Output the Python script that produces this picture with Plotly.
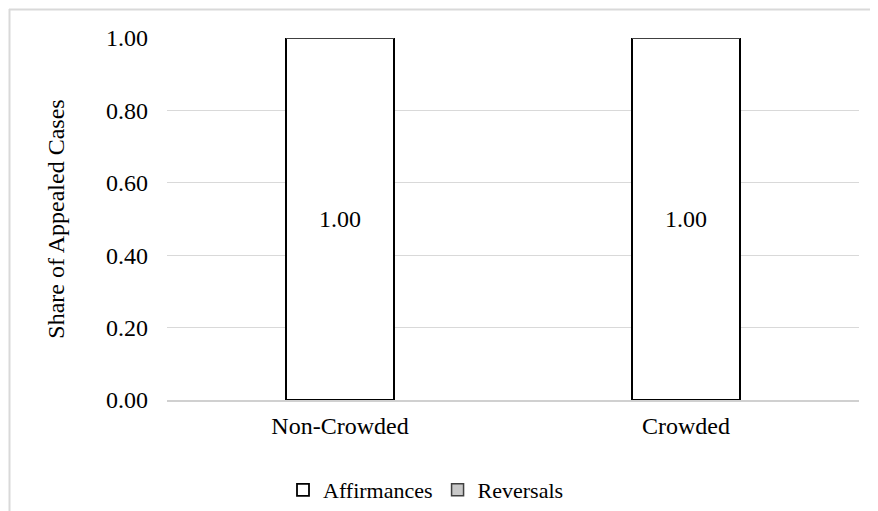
import plotly.graph_objects as go

categories = ["Non-Crowded", "Crowded"]
affirmances = [1.00, 1.00]
reversals = [0.00, 0.00]
y_ticks = [0.0, 0.2, 0.4, 0.6, 0.8, 1.0]
y_tick_labels = ["0.00", "0.20", "0.40", "0.60", "0.80", "1.00"]

# page body has an 8px margin, so the figure is sized to fill the rest of the window
OFF = 8
W, H = 878 - OFF, 511 - OFF
L, R, T, B = 167 - OFF, 19, 38 - OFF, 111
pw = W - L - R
ph = H - T - B

font_family = "Liberation Serif"
fs = 24

fig = go.Figure()
fig.add_trace(go.Bar(
    name="Affirmances", x=categories, y=affirmances,
    marker=dict(color="white", line=dict(color="black", width=1.8)),
    text=[f"{v:.2f}" for v in affirmances], textposition="inside",
    insidetextanchor="middle",
    textfont=dict(family=font_family, size=fs, color="black"),
    width=0.31,
))
fig.add_trace(go.Bar(
    name="Reversals", x=categories, y=reversals,
    marker=dict(color="#c8c8c8", line=dict(color="#404040", width=1.5)),
    width=0.31,
))

def px_x(p):
    return (p - OFF - L) / pw

def px_y(p):
    return (H - B - (p - OFF)) / ph

fig.add_shape(type="line", xref="paper", yref="paper",
              x0=px_x(9), x1=px_x(900), y0=px_y(9.5), y1=px_y(9.5),
              line=dict(color="#d9d9d9", width=2))
fig.add_shape(type="line", xref="paper", yref="paper",
              x0=px_x(9.5), x1=px_x(9.5), y0=px_y(9), y1=px_y(540),
              line=dict(color="#d9d9d9", width=2))

fig.update_layout(
    width=W, height=H,
    margin=dict(l=L, r=R, t=T, b=B, autoexpand=False),
    barmode="stack",
    paper_bgcolor="white", plot_bgcolor="white",
    font=dict(family=font_family, size=fs, color="black"),
    showlegend=True,
    legend=dict(orientation="h", x=px_x(426), xanchor="center", y=px_y(511), yanchor="bottom",
                font=dict(family=font_family, size=22), itemwidth=30,
                traceorder="normal", itemclick=False),
    xaxis=dict(showgrid=False, showline=True, linecolor="#d0d0d0", linewidth=1.5,
               ticks="", ticklabelstandoff=3, tickfont=dict(family=font_family, size=fs)),
    yaxis=dict(range=[0, 1.0], tickvals=y_ticks, ticktext=y_tick_labels,
               showgrid=True, gridcolor="#d9d9d9", gridwidth=1.2,
               zeroline=False, showline=False, ticks="", ticklabelstandoff=18,
               tickfont=dict(family=font_family, size=fs),
               title=dict(text="Share of Appealed Cases", standoff=34,
                          font=dict(family=font_family, size=fs))),
)

fig.write_html("out.html")
